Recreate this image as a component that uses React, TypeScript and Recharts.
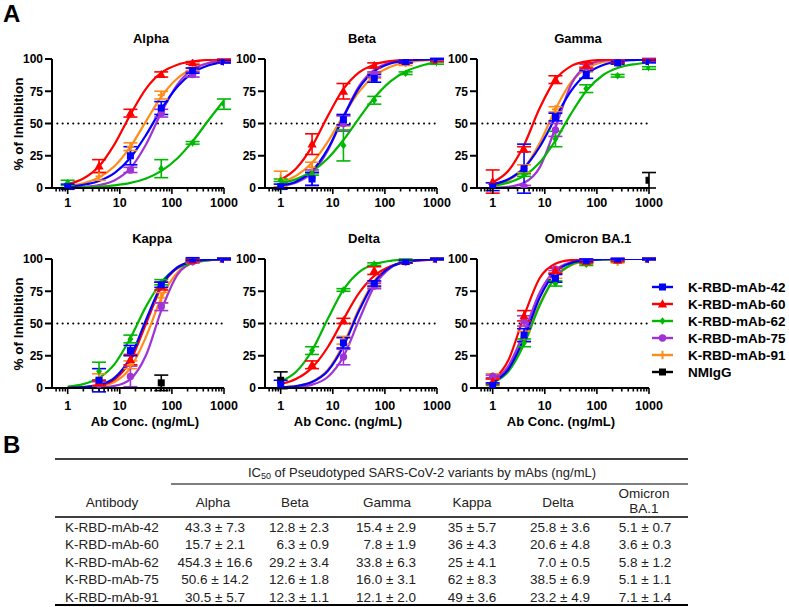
import React from 'react';
import { ComposedChart, Line, XAxis, YAxis, ReferenceLine, ErrorBar } from 'recharts';

const FONT = 'Arial, "Liberation Sans", Helvetica, sans-serif';

// sample concentrations of the fitted curves and of the measured points (ng/mL)
const CURVE_X = [1, 2, 4, 8, 16, 32, 64, 128, 256, 512, 1000];
const DOSE_X = [1, 4, 16, 62.5, 250, 1000];
const LOG_TICKS = [
  0.6, 0.7, 0.8, 0.9, 1, 2, 3, 4, 5, 6, 7, 8, 9, 10, 20, 30, 40, 50, 60, 70, 80, 90,
  100, 200, 300, 400, 500, 600, 700, 800, 900, 1000,
];
const MAJOR_TICKS = [1, 10, 100, 1000];
const Y_TICKS = [0, 25, 50, 75, 100];

const SERIES = [
  { key: 'm42', name: 'K-RBD-mAb-42', color: '#0000FF', shape: 'square' },
  { key: 'm60', name: 'K-RBD-mAb-60', color: '#FF0000', shape: 'triangle' },
  { key: 'm62', name: 'K-RBD-mAb-62', color: '#00B800', shape: 'diamond' },
  { key: 'm75', name: 'K-RBD-mAb-75', color: '#A033D6', shape: 'circle' },
  { key: 'm91', name: 'K-RBD-mAb-91', color: '#FF8C1A', shape: 'plus' },
  { key: 'igg', name: 'NMIgG', color: '#000000', shape: 'square' },
];
const DRAW_ORDER = ['igg', 'm91', 'm75', 'm62', 'm60', 'm42'];

// fitted curves, % inhibition at CURVE_X
const alphaFit = {
  m42: [1.1, 2.5, 5.5, 11.7, 23.4, 41.2, 61.7, 78.7, 89.5, 95.1, 97.8],
  m60: [3.0, 7.4, 16.9, 34.2, 56.9, 77.1, 89.6, 95.6, 98.2, 99.3, 99.7],
  m62: [0.3, 0.6, 1.1, 2.1, 4.0, 7.4, 13.5, 23.1, 36.7, 52.9, 67.9],
  m75: [0.3, 0.8, 2.2, 6.0, 15.3, 33.9, 59.2, 80.4, 92.1, 97.0, 98.9],
  m91: [1.7, 3.7, 8.2, 17.0, 32.0, 51.9, 71.3, 85.1, 92.9, 96.8, 98.5],
};
const betaFit = {
  m42: [1.9, 5.1, 13.2, 30.2, 55.0, 77.6, 90.7, 96.5, 98.7, 99.5, 99.8],
  m60: [6.4, 15.3, 32.3, 55.7, 76.8, 89.7, 95.8, 98.4, 99.4, 99.8, 99.9],
  m62: [3.6, 6.9, 12.9, 22.9, 37.2, 54.2, 70.3, 82.6, 90.5, 95.0, 97.4],
  m75: [1.4, 4.3, 11.9, 29.0, 55.3, 79.0, 91.9, 97.2, 99.1, 99.7, 99.9],
  m91: [4.4, 9.6, 19.5, 35.8, 56.2, 74.7, 87.1, 94.0, 97.3, 98.8, 99.5],
};
const gammaFit = {
  m42: [2.8, 6.8, 15.6, 32.0, 54.5, 75.3, 88.6, 95.2, 98.1, 99.2, 99.7],
  m60: [4.5, 13.4, 33.4, 62.0, 84.1, 94.5, 98.2, 99.4, 99.8, 99.9, 100],
  m62: [1.8, 4.2, 9.4, 19.8, 36.8, 57.7, 75.8, 87.2, 93.2, 95.9, 97.1],
  m75: [0.2, 0.9, 4.0, 16.0, 46.7, 80.1, 94.9, 98.8, 99.7, 99.9, 100],
  m91: [2.1, 5.9, 15.4, 34.8, 61.0, 82.1, 93.0, 97.5, 99.1, 99.7, 99.9],
};
const kappaFit = {
  m42: [0.2, 0.7, 2.4, 8.0, 23.8, 53.0, 80.2, 93.6, 98.1, 99.5, 99.8],
  m60: [0.1, 0.5, 1.9, 6.7, 21.1, 50.0, 78.9, 93.3, 98.1, 99.5, 99.8],
  m62: [1.1, 3.0, 7.8, 18.7, 38.7, 63.3, 82.5, 92.8, 97.2, 99.0, 99.6],
  m75: [0.0, 0.1, 0.4, 1.6, 6.9, 25.6, 61.2, 87.9, 97.1, 99.4, 99.9],
  m91: [0.1, 0.4, 1.4, 4.9, 15.5, 39.8, 70.5, 89.6, 96.9, 99.1, 99.7],
};
const deltaFit = {
  m42: [0.5, 1.5, 4.6, 13.2, 32.4, 60.0, 82.5, 93.7, 97.9, 99.3, 99.8],
  m60: [3.0, 7.1, 15.8, 31.6, 53.2, 73.7, 87.3, 94.4, 97.7, 99.0, 99.6],
  m62: [5.0, 12.8, 29.1, 53.4, 76.2, 89.9, 96.1, 98.6, 99.5, 99.8, 99.9],
  m75: [0.2, 0.8, 2.6, 8.5, 24.4, 52.9, 79.6, 93.2, 97.9, 99.4, 99.8],
  m91: [0.5, 1.6, 4.9, 14.0, 33.9, 61.7, 83.5, 94.1, 98.0, 99.4, 99.8],
};
const omicronFit = {
  m42: [4.3, 14.5, 38.7, 70.2, 89.8, 97.0, 99.2, 99.8, 100, 100, 100],
  m60: [5.6, 21.5, 55.8, 85.3, 96.4, 99.2, 99.8, 100, 100, 100, 100],
  m62: [4.1, 12.8, 33.9, 64.1, 86.1, 95.6, 98.7, 99.6, 99.9, 100, 100],
  m75: [5.2, 17.0, 43.4, 74.1, 91.4, 97.5, 99.3, 99.8, 100, 100, 100],
  m91: [5.2, 15.2, 36.8, 65.4, 86.0, 95.2, 98.5, 99.5, 99.8, 100, 100],
};

// measured means and errors at DOSE_X (null = not shown)
const alphaMean = {
  m42: [1, null, 25, 62, 91, 98],
  m60: [null, 17, 58, 88, 97, 99],
  m62: [4, null, null, 15, 35, 65],
  m75: [null, null, 14, 58, 88, 98],
  m91: [null, 9, 32, 72, 92, 98],
};
const alphaErr = {
  m42: [2, null, 7, 5, 2, 1],
  m60: [null, 5, 3, 2, 1, 1],
  m62: [2, null, null, 7, 1, 4],
  m75: [null, null, 2, 3, 2, 1],
  m91: [null, 3, 3, 3, 1, 1],
};
const betaMean = {
  m42: [1, 7, 53, 85, 98, 100],
  m60: [null, 34, 75, 95, 98, 99],
  m62: [6, 11, 33, 68, 89, 97],
  m75: [null, 8, 50, 88, 98, 99],
  m91: [7, 16, 52, 87, 97, 99],
};
const betaErr = {
  m42: [2, 5, 4, 3, 1, 0.5],
  m60: [null, 8, 6, 2, 1, 1],
  m62: [1, 1, 12, 3, 1, 1],
  m75: [null, 6, 6, 2, 1, 1],
  m91: [6, 4, 4, 2, 2, 1],
};
const gammaMean = {
  m42: [1, 15, 55, 88, 97, 98],
  m60: [5, 30, 84, 95, 98, 99],
  m62: [null, 10, 38, 77, 87, 93],
  m75: [null, 1, 45, 94, 98, 100],
  m91: [null, 15, 61, 92, 97, 99],
  igg: [null, null, null, null, null, 6],
};
const gammaErr = {
  m42: [3, 19, 3, 3, 1, 1],
  m60: [9, 2, 3, 2, 1, 1],
  m62: [null, 1, 6, 3, 1, 1],
  m75: [null, 1, 5, 2, 1, 0.5],
  m91: [null, 3, 2, 2, 1, 1],
  igg: [null, null, null, null, null, 6],
};
const kappaMean = {
  m42: [null, 6, 29, 80, 100, 100],
  m60: [null, 4, 22, 79, 99, 100],
  m62: [null, 13, 38, 82, 99, 100],
  m75: [null, 3, 9, 63, 98, 100],
  m91: [null, 8, 18, 70, 98, 100],
  igg: [null, null, null, 4, null, null],
};
const kappaErr = {
  m42: [null, 9, 4, 2, 1, 0.5],
  m60: [null, 2, 4, 3, 1, 0.5],
  m62: [null, 7, 3, 2, 1, 0.5],
  m75: [null, 2, 8, 3, 1, 0.5],
  m91: [null, 3, 3, 4, 1, 0.5],
  igg: [null, null, null, 6, null, null],
};
const deltaMean = {
  m42: [3, null, 35, 81, 98, 100],
  m60: [null, 18, 52, 91, 98, 100],
  m62: [null, 29, 76, 96, 99, 100],
  m75: [null, null, 24, 79, 98, 100],
  m91: [null, null, 37, 80, 98, 100],
  igg: [6, null, null, null, null, null],
};
const deltaErr = {
  m42: [3, null, 4, 2, 1, 0.5],
  m60: [null, 3, 2, 3, 1, 0.5],
  m62: [null, 3, 1, 1, 1, 0.5],
  m75: [null, null, 6, 2, 1, 0.5],
  m91: [null, null, 3, 2, 1, 0.5],
  igg: [6.5, null, null, null, null, null],
};
const omicronMean = {
  m42: [2, 41, 85, 99, 100, 100],
  m60: [5, 56, 91, 98, 99, 100],
  m62: [1, 35, 81, 96, 99, 100],
  m75: [9, 52, 92, 99, 100, 100],
  m91: [9, 40, 87, 97, 98, 100],
};
const omicronErr = {
  m42: [2, 5, 3, 1, 0.5, 0.5],
  m60: [2, 4, 2, 1, 1, 0.5],
  m62: [1, 3, 2, 1, 1, 0.5],
  m75: [1, 4, 1, 1, 0.5, 0.5],
  m91: [2, 4, 2, 1, 1, 0.5],
};

const PANELS = [
  { title: 'Alpha', px: 52, py: 59, titleX: 151, fit: alphaFit, mean: alphaMean, err: alphaErr },
  { title: 'Beta', px: 265, py: 59, titleX: 362, fit: betaFit, mean: betaMean, err: betaErr },
  { title: 'Gamma', px: 477, py: 59, titleX: 578, fit: gammaFit, mean: gammaMean, err: gammaErr },
  { title: 'Kappa', px: 52, py: 259, titleX: 152, fit: kappaFit, mean: kappaMean, err: kappaErr },
  { title: 'Delta', px: 265, py: 259, titleX: 364, fit: deltaFit, mean: deltaMean, err: deltaErr },
  { title: 'Omicron BA.1', px: 477, py: 259, titleX: 588, fit: omicronFit, mean: omicronMean, err: omicronErr },
];

// table B
const TABLE_HEAD = ['Antibody', 'Alpha', 'Beta', 'Gamma', 'Kappa', 'Delta'];
const TABLE_ROWS = ['K-RBD-mAb-42', 'K-RBD-mAb-60', 'K-RBD-mAb-62', 'K-RBD-mAb-75', 'K-RBD-mAb-91'];
const IC50 = [
  ['43.3 ± 7.3', '12.8 ± 2.3', '15.4 ± 2.9', '35 ± 5.7', '25.8 ± 3.6', '5.1 ± 0.7'],
  ['15.7 ± 2.1', '6.3 ± 0.9', '7.8 ± 1.9', '36 ± 4.3', '20.6 ± 4.8', '3.6 ± 0.3'],
  ['454.3 ± 16.6', '29.2 ± 3.4', '33.8 ± 6.3', '25 ± 4.1', '7.0 ± 0.5', '5.8 ± 1.2'],
  ['50.6 ± 14.2', '12.6 ± 1.8', '16.0 ± 3.1', '62 ± 8.3', '38.5 ± 6.9', '5.1 ± 1.1'],
  ['30.5 ± 5.7', '12.3 ± 1.1', '12.1 ± 2.0', '49 ± 3.6', '23.2 ± 4.9', '7.1 ± 1.4'],
];

const PW = 172;
const PH = 129;

function Marker({ cx, cy, shape, color }: any) {
  if (cx == null || cy == null || isNaN(cx) || isNaN(cy)) return null;
  switch (shape) {
    case 'square':
      return <rect x={cx - 3.5} y={cy - 3.5} width={7} height={7} fill={color} />;
    case 'triangle':
      return <polygon points={`${cx},${cy - 4.8} ${cx + 4.6},${cy + 3.4} ${cx - 4.6},${cy + 3.4}`} fill={color} />;
    case 'diamond':
      return <polygon points={`${cx},${cy - 3.8} ${cx + 3},${cy} ${cx},${cy + 3.8} ${cx - 3},${cy}`} fill={color} />;
    case 'circle':
      return <circle cx={cx} cy={cy} r={3.7} fill={color} />;
    default:
      return (
        <g stroke={color} strokeWidth={2}>
          <line x1={cx - 3.5} x2={cx + 3.5} y1={cy} y2={cy} />
          <line x1={cx} x2={cx} y1={cy - 4.2} y2={cy + 4.2} />
        </g>
      );
  }
}

const LogTick = ({ x, y, payload, labelDy }: any) => {
  const major = MAJOR_TICKS.includes(payload.value);
  return (
    <g>
      <line x1={x} x2={x} y1={y} y2={y + (major ? 6 : 3.5)} stroke="#000" strokeWidth={1.6} />
      {major && (
        <text x={x} y={y + labelDy} textAnchor="middle" fontSize={12.5} fontWeight="bold" fontFamily={FONT} fill="#000">
          {payload.value}
        </text>
      )}
    </g>
  );
};

function Panel({ p, labelDy }: any) {
  const info = (k: string) => SERIES.find((s) => s.key === k)!;
  return (
    <div style={{ position: 'absolute', left: p.px - 45, top: p.py - 10 }}>
      <ComposedChart width={PW + 70} height={PH + 40} margin={{ top: 10, right: 25, bottom: 0, left: 5 }}>
        <XAxis
          type="number"
          dataKey="x"
          scale="log"
          domain={[0.5, 1000]}
          allowDataOverflow
          ticks={LOG_TICKS}
          interval={0}
          height={30}
          tickLine={false}
          tickSize={0}
          tickMargin={0}
          axisLine={{ stroke: '#000', strokeWidth: 2 }}
          tick={(t: any) => <LogTick {...t} labelDy={labelDy} />}
        />
        <YAxis
          type="number"
          domain={[0, 100]}
          allowDataOverflow
          ticks={Y_TICKS}
          interval={0}
          width={40}
          tickSize={7}
          tickMargin={2}
          axisLine={{ stroke: '#000', strokeWidth: 2 }}
          tickLine={{ stroke: '#000', strokeWidth: 2 }}
          tick={{ fontSize: 12, fontWeight: 'bold', fill: '#000', fontFamily: FONT }}
        />
        <ReferenceLine y={50} stroke="#000" strokeWidth={2} strokeDasharray="0.1 5.2" strokeLinecap="round" />
        {DRAW_ORDER.filter((k) => p.fit[k]).map((k) => (
          <Line
            key={'f' + k}
            data={CURVE_X.map((x, i) => ({ x, y: p.fit[k][i] }))}
            dataKey="y"
            type="monotone"
            stroke={info(k).color}
            strokeWidth={2.2}
            dot={false}
            activeDot={false}
            isAnimationActive={false}
          />
        ))}
        {DRAW_ORDER.filter((k) => p.mean[k]).map((k) => {
          const s = info(k);
          const pts = DOSE_X.map((x, i) => ({ x, y: p.mean[k][i], e: p.err[k][i] })).filter((d) => d.y != null);
          return (
            <Line
              key={'p' + k}
              data={pts}
              dataKey="y"
              stroke="none"
              activeDot={false}
              isAnimationActive={false}
              dot={(d: any) => <Marker key={`${k}-${d.index}`} cx={d.cx} cy={d.cy} shape={s.shape} color={s.color} />}
            >
              <ErrorBar dataKey="e" width={7} stroke={s.color} strokeWidth={1.6} isAnimationActive={false} />
            </Line>
          );
        })}
      </ComposedChart>
    </div>
  );
}

const T = { fontFamily: FONT, fill: '#000' };

export default function App() {
  const colX = [112, 215, 329, 416, 472, 590, 645];
  const colAnchor = ['middle', 'middle', 'end', 'end', 'middle', 'end', 'middle'];
  const headX = [112, 213, 295, 387, 472, 558];
  const rowY = [531.5, 549, 566.5, 584, 601.5];
  return (
    <div style={{ position: 'absolute', left: 0, top: 0, width: 789, height: 607, background: '#fff', overflow: 'hidden' }}>
      {PANELS.map((p, i) => (
        <Panel key={p.title} p={p} labelDy={i < 3 ? 19 : 22} />
      ))}
      <svg width={789} height={607} style={{ position: 'absolute', left: 0, top: 0, pointerEvents: 'none' }}>
        <text x={3} y={22} fontSize={24} fontWeight="bold" {...T}>A</text>
        <text x={3} y={453} fontSize={24} fontWeight="bold" {...T}>B</text>
        {PANELS.map((p) => (
          <text key={p.title} x={p.titleX} y={p.py - 16} textAnchor="middle" fontSize={13} fontWeight="bold" {...T}>
            {p.title}
          </text>
        ))}
        {[124, 324].map((cy) => (
          <text key={cy} x={0} y={0} transform={`translate(23 ${cy}) rotate(-90)`} textAnchor="middle" fontSize={13.5} fontWeight="bold" {...T}>
            % of Inhibition
          </text>
        ))}
        {[145, 348, 561].map((cx) => (
          <text key={cx} x={cx} y={426} textAnchor="middle" fontSize={13} fontWeight="bold" {...T}>
            Ab Conc. (ng/mL)
          </text>
        ))}
        {SERIES.map((s, i) => {
          const y = 287 + i * 17;
          return (
            <g key={s.key}>
              <line x1={652} x2={673} y1={y} y2={y} stroke={s.color} strokeWidth={2.4} />
              <Marker cx={662.5} cy={y} shape={s.shape} color={s.color} />
              <text x={688} y={y + 4.7} fontSize={13.5} fontWeight="bold" {...T}>{s.name}</text>
            </g>
          );
        })}
        <line x1={55} x2={688} y1={459} y2={459} stroke="#000" strokeWidth={1.6} />
        <text x={422} y={477} textAnchor="middle" fontSize={13} {...T} fill="#222">
          IC<tspan fontSize={9} dy={2}>50</tspan>
          <tspan dy={-2}> of Pseudotyped SARS-CoV-2 variants by mAbs (ng/mL)</tspan>
        </text>
        <line x1={171} x2={688} y1={484} y2={484} stroke="#000" strokeWidth={1.2} />
        {TABLE_HEAD.map((h, i) => (
          <text key={h} x={headX[i]} y={507} textAnchor="middle" fontSize={13.5} {...T} fill="#222">{h}</text>
        ))}
        <text x={644} y={498} textAnchor="middle" fontSize={13.5} {...T} fill="#222">Omicron</text>
        <text x={644} y={513} textAnchor="middle" fontSize={13.5} {...T} fill="#222">BA.1</text>
        <line x1={55} x2={688} y1={517} y2={517} stroke="#000" strokeWidth={1.6} />
        {TABLE_ROWS.map((r, ri) => (
          <g key={r}>
            <text x={colX[0]} y={rowY[ri]} textAnchor="middle" fontSize={13.5} {...T} fill="#222">{r}</text>
            {IC50[ri].map((v, ci) => (
              <text key={ci} x={colX[ci + 1]} y={rowY[ri]} textAnchor={colAnchor[ci + 1] as any} fontSize={13.5} {...T} fill="#222">
                {v}
              </text>
            ))}
          </g>
        ))}
        <line x1={55} x2={688} y1={605} y2={605} stroke="#000" strokeWidth={2} />
      </svg>
    </div>
  );
}
